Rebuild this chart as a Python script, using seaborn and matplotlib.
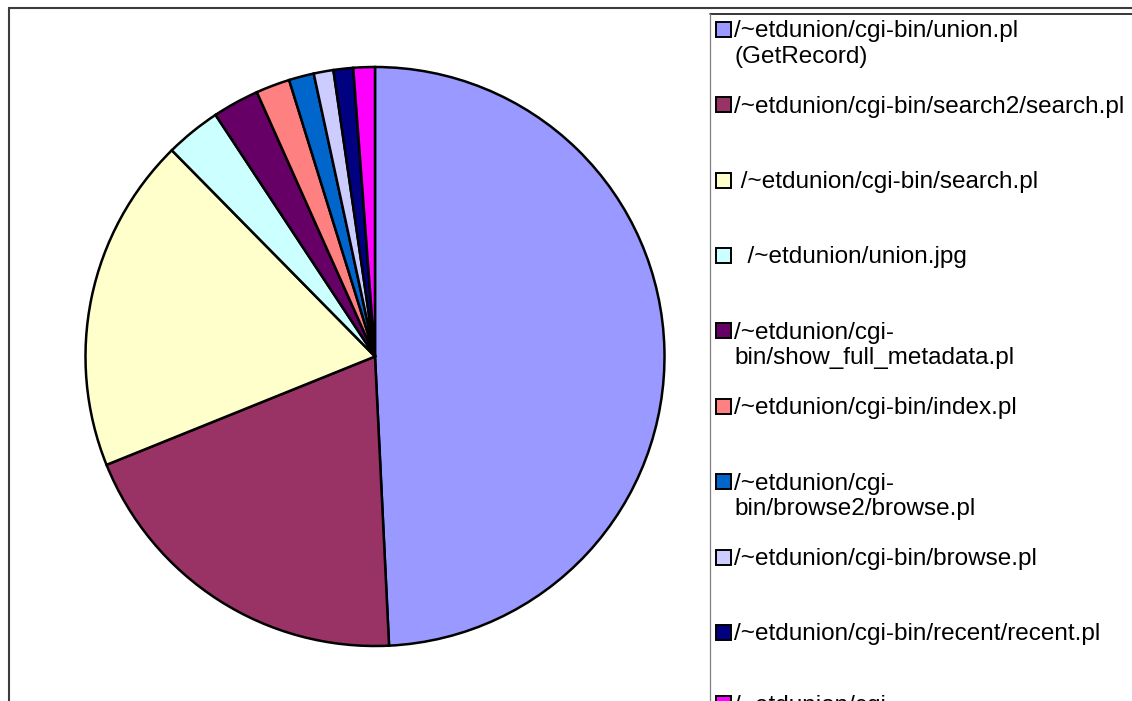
import numpy as np
import matplotlib
matplotlib.use("Agg")
import matplotlib.pyplot as plt
import matplotlib.patches as mpatches
import seaborn as sns

# -------------------------------------------------
# DATA (share of requests per script)
# -------------------------------------------------
labels = [
    "/~etdunion/cgi-bin/union.pl\n(GetRecord)",
    "/~etdunion/cgi-bin/search2/search.pl",
    " /~etdunion/cgi-bin/search.pl",
    "  /~etdunion/union.jpg",
    "/~etdunion/cgi-\nbin/show_full_metadata.pl",
    "/~etdunion/cgi-bin/index.pl",
    "/~etdunion/cgi-\nbin/browse2/browse.pl",
    "/~etdunion/cgi-bin/browse.pl",
    "/~etdunion/cgi-bin/recent/recent.pl",
    "/~etdunion/cgi-\nbin/oai/oai.pl",
]
shares = [49.3, 19.7, 18.75, 3.1, 2.6, 1.9, 1.4, 1.1, 1.1, 1.2]
colors = ["#9999FF", "#993366", "#FFFFCC", "#CCFFFF", "#660066",
          "#FF8080", "#0066CC", "#CCCCFF", "#000080", "#FF00FF"]

# -------------------------------------------------
# LAYOUT (pixel units, image coords: y from top)
# -------------------------------------------------
W, H = 1132, 701
PIE_CX, PIE_CY, PIE_R = 375, 356.5, 289.5
LEG_X, LEG_Y0, LEG_STEP = 716, 29.2, 75.4
MARK = 15
LINE_PITCH = 25.5

sns.set_style("white")
plt.rcParams["font.family"] = ["Liberation Sans", "DejaVu Sans"]

fig = plt.figure(figsize=(W / 100, H / 100), dpi=100)
ax = fig.add_axes([0, 0, 1, 1])

ax.pie(
    shares,
    colors=colors,
    startangle=90,
    counterclock=False,
    center=(PIE_CX, H - PIE_CY),
    radius=PIE_R,
    wedgeprops=dict(edgecolor="black", linewidth=1.8),
)
ax.set_xlim(0, W)
ax.set_ylim(0, H)
ax.set_aspect("equal")
ax.axis("off")

# outer chart frame and legend box (both run off the right/bottom edge)
ax.add_patch(mpatches.Rectangle((8.5, -20), W + 50, H - 7.5 + 20,
                                fill=False, edgecolor="#3c3c3c", linewidth=1.5))
ax.plot([709.5, W + 5], [H - 13.5, H - 13.5], color="black", lw=1.1)
ax.plot([709.5, 709.5], [H - 13.5, -5], color="#808080", lw=0.9)

# legend rows
rows = LEG_Y0 + LEG_STEP * np.arange(len(labels))
rows[-1] -= 4  # last row sits a little higher in the source
for y, lab, c in zip(rows, labels, colors):
    ax.add_patch(mpatches.Rectangle((LEG_X, H - y - MARK / 2), MARK, MARK,
                                    facecolor=c, edgecolor="black", linewidth=1.4))
    for k, line in enumerate(lab.split("\n")):
        ax.text(734, H - (y + 8 + k * LINE_PITCH), line, fontsize=17.5,
                va="baseline", ha="left", color="black")

fig.savefig("out.png", dpi=100)
